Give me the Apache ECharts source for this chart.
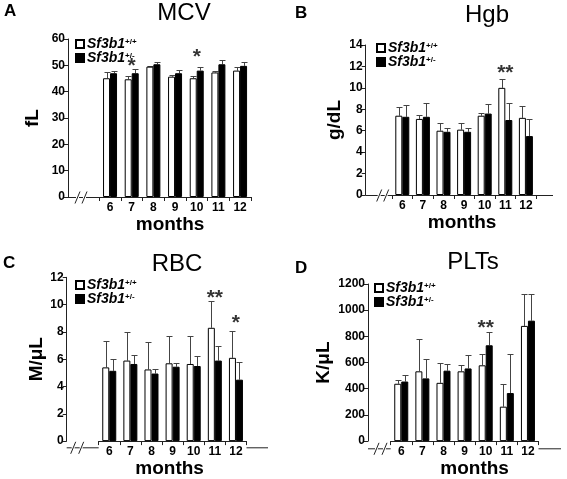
<!DOCTYPE html>
<html><head><meta charset="utf-8">
<script src="https://cdn.jsdelivr.net/npm/echarts@6/dist/echarts.min.js"></script>
<style>html,body{margin:0;padding:0;background:#fff}#c{width:567px;height:479px}</style>
</head><body><div id="c"></div>
<script>
const months = ['6','7','8','9','10','11','12'];
const seriesNames = ['WT','Het'];

const mcvWT     = [45.1, 44.7, 49.5, 45.7, 45.1, 47.3, 48.0];
const mcvWTErr  = [47.3, 46.0, 49.9, 46.5, 46.0, 48.0, 49.4];
const mcvHet    = [47.0, 47.0, 50.4, 47.0, 48.0, 50.4, 49.8];
const mcvHetErr = [47.9, 48.6, 51.2, 48.1, 49.5, 52.0, 51.3];
const mcvStars  = [[1, 51.6, '*'], [4, 55, '*']];

const hgbWT     = [7.4, 7.1, 6.0, 6.1, 7.4, 10.0, 7.2];
const hgbWTErr  = [8.25, 7.5, 6.7, 6.7, 7.7, 10.8, 8.3];
const hgbHet    = [7.3, 7.3, 5.9, 5.9, 7.6, 7.0, 5.5];
const hgbHetErr = [8.4, 8.55, 6.25, 6.25, 8.5, 8.55, 7.1];
const hgbStars  = [[5, 11.85, '**']];

const rbcWT     = [5.4, 5.9, 5.25, 5.7, 5.65, 8.3, 6.1];
const rbcWTErr  = [7.35, 8.0, 7.25, 7.7, 7.7, 10.25, 8.1];
const rbcHet    = [5.15, 5.65, 4.95, 5.45, 5.5, 5.9, 4.5];
const rbcHetErr = [6.0, 6.3, 5.25, 5.7, 6.2, 6.95, 5.8];
const rbcStars  = [[5, 10.87, '**'], [6, 9.0, '*']];

const pltWT     = [438, 533, 445, 533, 579, 263, 880];
const pltWTErr  = [465, 783, 596, 581, 669, 433, 1125];
const pltHet    = [455, 479, 538, 555, 732, 367, 920];
const pltHetErr = [506, 625, 586, 657, 837, 662, 1125];
const pltStars  = [[4, 902, '**']];

const FONT = '"Liberation Sans", Arial, sans-serif';
const BAR_W = 7;

const panels = [
  {letter:'A', title:'MCV', yName:'fL', wt:mcvWT, wtErr:mcvWTErr, het:mcvHet, hetErr:mcvHetErr, stars:mcvStars,
   min:0, max:60, interval:10, grid:{left:99.2, top:39, width:151.7, height:158}, yOff:31.2, yNameGap:26,
   ext:251, titleX:184, titleY:1, letterX:4, letterY:3, legX:75, legY:37, brk:[9,16], monthsShift:-5},
  {letter:'B', title:'Hgb', yName:'g/dL', wt:hgbWT, wtErr:hgbWTErr, het:hgbHet, hetErr:hgbHetErr, stars:hgbStars,
   min:0, max:14, interval:2, grid:{left:392, top:45, width:144.2, height:150}, yOff:26.3, yNameGap:21,
   ext:553, titleX:487, titleY:3, letterX:295, letterY:5, legX:376, legY:41, brk:[13,20], monthsShift:-2},
  {letter:'C', title:'RBC', yName:'M/\u03bcL', wt:rbcWT, wtErr:rbcWTErr, het:rbcHet, hetErr:rbcHetErr, stars:rbcStars,
   min:0, max:12, interval:2, grid:{left:98.7, top:277.3, width:147.8, height:170}, yOff:32, yNameGap:16,
   ext:268, titleX:177, titleY:252, letterX:3, letterY:255, legX:75, legY:278, brk:[6,14], monthsShift:-3},
  {letter:'D', title:'PLTs', yName:'K/\u03bcL', wt:pltWT, wtErr:pltWTErr, het:pltHet, hetErr:pltHetErr, stars:pltStars,
   min:0, max:1200, interval:200, grid:{left:390.7, top:284, width:147.8, height:164.3}, yOff:22.7, yNameGap:35,
   ext:561, titleX:473, titleY:250, letterX:295, letterY:260, legX:374, legY:281, brk:[8,16], monthsShift:10}
];

function errRender(sign) {
  return function (params, api) {
    const idx = api.value(0);
    const top = api.coord([idx, api.value(1)]);
    const base = api.coord([idx, api.value(2)]);
    const x = Math.round(top[0] + sign * BAR_W / 2) + 0.5;
    const yt = Math.round(top[1]) + 0.5;
    return {
      type: 'group',
      children: [
        {type:'line', shape:{x1:x, y1:base[1], x2:x, y2:yt}, style:{stroke:'#444', lineWidth:1}},
        {type:'line', shape:{x1:x - 3, y1:yt, x2:x + 3, y2:yt}, style:{stroke:'#444', lineWidth:1}}
      ]
    };
  };
}

const option = {
  animation: false,
  backgroundColor: '#fff',
  title: [], grid: [], xAxis: [], yAxis: [], series: [], legend: [], graphic: []
};

panels.forEach((p, i) => {
  option.title.push({text:p.title, left:p.titleX, top:p.titleY, textAlign:'center', padding:0,
    textStyle:{fontFamily:FONT, fontSize:24, fontWeight:'normal', color:'#000'}});
  option.title.push({text:p.letter, left:p.letterX, top:p.letterY, padding:0,
    textStyle:{fontFamily:FONT, fontSize:17, fontWeight:'bold', color:'#000'}});
  option.grid.push(Object.assign({containLabel:false}, p.grid));
  option.xAxis.push({
    type:'category', gridIndex:i, data:months,
    axisLine:{show:true, lineStyle:{color:'#222', width:1}},
    axisTick:{show:true, length:4, lineStyle:{color:'#222'}},
    axisLabel:{fontFamily:FONT, fontSize:12, fontWeight:'bold', color:'#000', margin:5},
    name:'months', nameLocation:'middle', nameGap:11,
    nameTextStyle:{fontFamily:FONT, fontSize:19, fontWeight:'bold', color:'#000',
      padding: p.monthsShift > 0 ? [0,0,0,p.monthsShift*2] : [0,-p.monthsShift*2,0,0]}
  });
  option.yAxis.push({
    type:'value', gridIndex:i, min:p.min, max:p.max, interval:p.interval, offset:p.yOff,
    axisLine:{show:true, lineStyle:{color:'#222', width:1}},
    axisTick:{show:true, length:4, lineStyle:{color:'#222'}},
    splitLine:{show:false},
    axisLabel:{fontFamily:FONT, fontSize:12, fontWeight:'bold', color:'#000', margin:3,
      formatter:(v) => String(v)},
    name:p.yName, nameLocation:'middle', nameGap:p.yNameGap, nameRotate:90,
    nameTextStyle:{fontFamily:FONT, fontSize:19, fontWeight:'bold', color:'#000'}
  });
  option.series.push({
    name:'WT', type:'bar', xAxisIndex:i, yAxisIndex:i, data:p.wt, barWidth:BAR_W, barGap:'0%',
    itemStyle:{color:'#fff', borderColor:'#000', borderWidth:1}
  });
  option.series.push({
    name:'Het', type:'bar', xAxisIndex:i, yAxisIndex:i, data:p.het, barWidth:BAR_W, barGap:'0%',
    itemStyle:{color:'#000', borderColor:'#000', borderWidth:1}
  });
  option.series.push({
    type:'custom', xAxisIndex:i, yAxisIndex:i, renderItem:errRender(-1), z:1,
    data:p.wtErr.map((v, k) => [k, v, p.wt[k]])
  });
  option.series.push({
    type:'custom', xAxisIndex:i, yAxisIndex:i, renderItem:errRender(1), z:1,
    data:p.hetErr.map((v, k) => [k, v, p.het[k]])
  });
  option.series.push({
    type:'scatter', xAxisIndex:i, yAxisIndex:i, symbolSize:0, silent:true,
    data:p.stars,
    label:{show:true, position:'inside', offset:[0,5], formatter:(d) => d.data[2],
      fontFamily:FONT, fontSize:21, fontWeight:'bold', color:'#000'}
  });
  option.legend.push({
    data:seriesNames, left:p.legX, top:p.legY, orient:'vertical', itemGap:0,
    itemWidth:8, itemHeight:8, icon:'rect', padding:0, selectedMode:false,
    formatter:(n) => n === 'WT' ? '{i|Sf3b1}{s|+/+}' : '{i|Sf3b1}{s|+/-}',
    textStyle:{color:'#000', padding:[0,0,0,-2], rich:{
      i:{fontFamily:FONT, fontSize:14, fontStyle:'italic', fontWeight:'bold', color:'#000', lineHeight:12},
      s:{fontFamily:FONT, fontSize:8, fontWeight:'bold', color:'#000', verticalAlign:'top', lineHeight:12}
    }}
  });
  // axis decoration: extension of x-axis line to the y axis, break marks, right extension
  const yAx = p.grid.left - p.yOff;
  const yb = p.grid.top + p.grid.height + 0.5;
  option.graphic.push({type:'line', shape:{x1:yAx, y1:yb, x2:p.grid.left, y2:yb}, style:{stroke:'#222', lineWidth:1}, silent:true});
  if (p.ext > p.grid.left + p.grid.width) {
    option.graphic.push({type:'line', shape:{x1:p.grid.left + p.grid.width, y1:yb, x2:p.ext, y2:yb}, style:{stroke:'#222', lineWidth:1}, silent:true});
  }
  p.brk.forEach(b => {
    option.graphic.push({type:'rect', shape:{x:yAx + b - 1, y:yb - 1, width:3, height:2}, style:{fill:'#fff'}, silent:true, z:10});
    option.graphic.push({type:'line', shape:{x1:yAx + b - 2, y1:yb + 6, x2:yAx + b + 3, y2:yb - 6}, style:{stroke:'#222', lineWidth:1}, silent:true, z:11});
  });
});

const chart = echarts.init(document.getElementById('c'), null, {renderer:'canvas'});
chart.setOption(option);
</script></body></html>
